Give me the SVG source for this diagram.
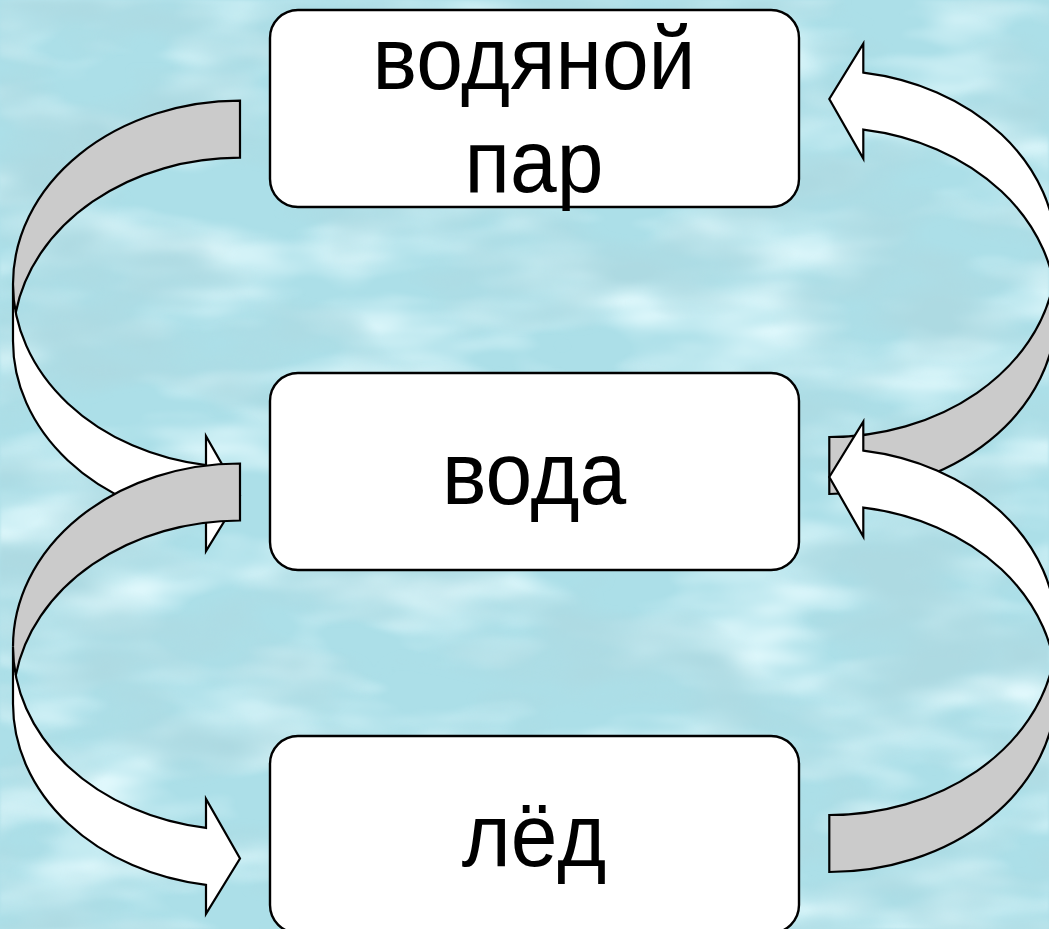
<svg xmlns="http://www.w3.org/2000/svg" xmlns:xlink="http://www.w3.org/1999/xlink" width="1049" height="929" viewBox="0 0 1049 929">
<style>
.box{fill:#ffffff;stroke:#000000;stroke-width:2.4}
.t{font-family:"Liberation Sans",Arial,sans-serif;font-size:84px;fill:#000000;text-anchor:middle}
.dark{fill:#cbcbcb;stroke:none}
.light{fill:#ffffff;stroke:none}
.ol{fill:none;stroke:#000000;stroke-width:2.2;stroke-linejoin:miter}
</style>
<defs>
<filter id="waterDark" filterUnits="userSpaceOnUse" x="0" y="0" width="1049" height="929">
<feTurbulence type="fractalNoise" baseFrequency="0.006 0.013" numOctaves="3" seed="7" result="n"/>
<feColorMatrix in="n" type="matrix" values="0 0 0 0 0.42  0 0 0 0 0.70  0 0 0 0 0.76  3.0 0 0 0 -1.25"/>
<feGaussianBlur stdDeviation="1.5"/>
</filter>
<filter id="waterLight" filterUnits="userSpaceOnUse" x="0" y="0" width="1049" height="929">
<feTurbulence type="fractalNoise" baseFrequency="0.006 0.018" numOctaves="3" seed="19" result="n"/>
<feColorMatrix in="n" type="matrix" values="0 0 0 0 0.76  0 0 0 0 0.95  0 0 0 0 0.98  2.6 0 0 0 -1.1"/>
<feGaussianBlur stdDeviation="1.5"/>
</filter>
<g id="carrow">
<path class="dark" d="M227,57 A227,183.25 0 0 0 2.76,211.75 A227,183.25 0 0 1 227,0 Z"/>
<path class="light" d="M0,183.25 A227,183.25 0 0 0 193,364.44 L193,335.44 L227,395 L193,450.44 L193,421.44 A227,183.25 0 0 1 0,240.25 Z"/>
<path class="ol" d="M0,183.25 A227,183.25 0 0 0 193,364.44 L193,335.44 L227,395 L193,450.44 L193,421.44 A227,183.25 0 0 1 0,240.25 Z"/>
<path class="ol" d="M0,183.25 A227,183.25 0 0 1 227,0 L227,57 A227,183.25 0 0 0 2.76,211.75"/>
</g>
</defs>
<g id="background">
<rect x="0" y="0" width="1049" height="929" fill="#acdfe8"/>
<rect x="0" y="0" width="1049" height="929" filter="url(#waterLight)"/>
<rect x="0" y="0" width="1049" height="929" filter="url(#waterDark)"/>
</g>
<g id="connectors">
<use id="arrow-vapor-water" xlink:href="#carrow" transform="translate(13,100.7)"/>
<use id="arrow-water-ice" xlink:href="#carrow" transform="translate(13,463.5)"/>
<use id="arrow-water-vapor" xlink:href="#carrow" transform="translate(1056.3,494) rotate(180)"/>
<use id="arrow-ice-water" xlink:href="#carrow" transform="translate(1056.3,872) rotate(180)"/>
</g>
<g id="node-vapor">
<rect class="box" x="270" y="10" width="529" height="197" rx="28" ry="28"/>
<text class="t" transform="translate(534,89) scale(1,1.07)">водяной</text>
<text class="t" transform="translate(534,192) scale(1,1.07)">пар</text>
</g>
<g id="node-water">
<rect class="box" x="270" y="373" width="529" height="197" rx="28" ry="28"/>
<text class="t" transform="translate(534,503.5) scale(1,1.07)">вода</text>
</g>
<g id="node-ice">
<rect class="box" x="270" y="736" width="529" height="197" rx="28" ry="28"/>
<text class="t" transform="translate(534,866) scale(1,1.07)">лёд</text>
</g>
</svg>
